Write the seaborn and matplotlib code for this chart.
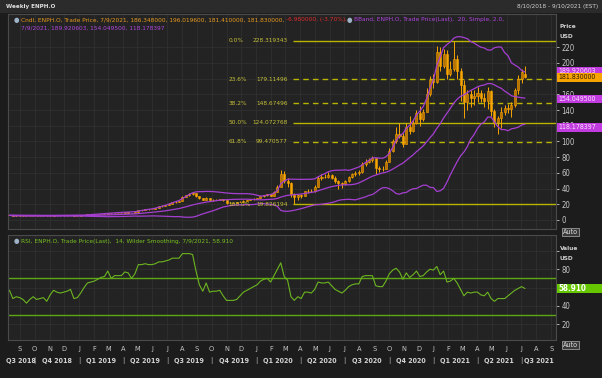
import numpy as np
import pandas as pd
import matplotlib
matplotlib.use("Agg")
import matplotlib.pyplot as plt
import matplotlib.dates as mdates
import matplotlib.transforms as mtransforms
from matplotlib.patches import Rectangle
from matplotlib import font_manager
import seaborn as sns

# ---------------- data (weekly bars, Friday dated) ----------------
first_week = "2018-08-10"
opens = [
    6.10, 5.90, 5.50, 5.62, 5.58, 5.45, 5.15, 5.35, 5.50, 5.30,
    5.35, 5.40, 5.05, 5.45, 5.85, 5.75, 5.70, 5.75, 5.85, 6.00,
    5.30, 5.38, 5.80, 6.40, 7.00, 7.15, 7.30, 7.70, 8.00, 8.20,
    9.00, 8.40, 8.75, 8.85, 8.90, 9.60, 9.45, 8.90, 9.80, 12.20,
    12.90, 13.80, 13.60, 14.00, 15.30, 17.20, 18.00, 19.30, 20.80, 22.40,
    23.40, 24.00, 29.60, 31.50, 33.00, 33.80, 30.50, 27.50, 25.80, 28.20,
    25.50, 25.70, 25.80, 26.20, 25.00, 22.00, 22.10, 22.20, 22.50, 23.40,
    24.60, 25.40, 26.20, 27.00, 28.00, 30.00, 31.50, 32.60, 31.00, 36.00,
    42.50, 59.00, 50.00, 47.00, 33.00, 29.00, 31.50, 30.50, 36.50, 37.00,
    36.50, 42.00, 54.00, 54.50, 55.00, 57.50, 54.00, 50.00, 47.50, 45.50,
    49.50, 54.50, 58.00, 59.50, 60.50, 71.00, 74.00, 76.50, 78.50, 66.00,
    65.00, 65.50, 74.00, 88.00, 100.00, 110.00, 107.00, 97.00, 118.00, 113.00,
    123.00, 136.00, 128.00, 138.00, 160.00, 178.00, 175.50, 214.00, 196.00, 212.00,
    186.00, 192.00, 205.00, 190.00, 172.00, 150.00, 160.00, 156.00, 158.00, 162.00,
    155.00, 152.00, 164.00, 139.00, 125.00, 130.00, 137.00, 143.00, 141.00, 147.00,
    165.00, 179.00, 186.348,
]
highs = [
    6.30, 6.00, 5.80, 5.75, 5.70, 5.50, 5.45, 5.60, 5.55, 5.50,
    5.55, 5.45, 5.55, 5.95, 5.95, 5.85, 5.85, 5.95, 6.15, 6.05,
    5.50, 5.90, 6.50, 7.10, 7.30, 7.50, 7.85, 8.20, 8.40, 9.20,
    9.10, 8.90, 9.00, 9.10, 9.80, 9.80, 9.50, 10.00, 12.60, 13.30,
    14.10, 14.20, 14.30, 15.60, 17.60, 18.50, 19.70, 21.20, 22.80, 23.90,
    24.60, 30.50, 32.20, 33.80, 35.90, 34.20, 30.80, 28.20, 28.80, 28.40,
    26.50, 26.60, 26.90, 27.00, 25.50, 23.00, 22.90, 23.10, 23.80, 25.00,
    25.90, 26.70, 27.50, 28.60, 30.60, 32.20, 33.60, 33.20, 36.50, 44.00,
    64.00, 62.00, 54.00, 48.00, 34.00, 33.50, 33.00, 37.50, 39.50, 39.00,
    44.00, 56.00, 58.00, 59.00, 61.00, 59.00, 56.00, 51.50, 49.00, 51.00,
    56.00, 59.50, 62.00, 63.50, 74.00, 77.50, 79.00, 81.00, 79.50, 69.00,
    68.50, 76.00, 92.00, 103.00, 119.00, 123.00, 111.00, 124.00, 132.00, 128.00,
    140.00, 145.00, 142.00, 168.00, 184.00, 186.00, 222.00, 220.00, 218.00, 216.00,
    203.00, 228.319343, 210.00, 194.00, 178.00, 166.00, 165.00, 165.00, 170.00, 166.00,
    162.00, 170.00, 166.00, 142.00, 133.00, 144.00, 146.00, 148.00, 150.00, 168.00,
    185.00, 192.00, 196.0196,
]
lows = [
    5.75, 5.35, 5.40, 5.45, 5.30, 5.00, 5.05, 5.25, 5.20, 5.15,
    5.20, 4.90, 5.00, 5.40, 5.60, 5.55, 5.60, 5.65, 5.75, 5.15,
    5.10, 5.30, 5.75, 6.30, 6.85, 7.00, 7.20, 7.60, 7.90, 8.10,
    8.20, 8.30, 8.60, 8.70, 8.80, 9.20, 8.70, 8.80, 9.70, 12.00,
    12.70, 13.20, 13.40, 13.90, 15.10, 16.90, 17.80, 19.10, 20.50, 22.00,
    23.00, 23.60, 28.80, 30.80, 32.20, 29.80, 26.50, 25.00, 25.50, 25.00,
    24.20, 25.00, 25.20, 24.50, 20.50, 21.30, 21.60, 21.80, 22.30, 23.10,
    24.30, 25.10, 25.90, 26.50, 27.70, 29.60, 31.10, 30.40, 30.80, 35.50,
    42.00, 47.00, 42.00, 29.00, 19.826194, 25.00, 28.50, 30.00, 34.50, 35.00,
    36.00, 41.50, 51.50, 53.00, 54.00, 52.00, 47.00, 40.00, 41.00, 44.50,
    49.00, 53.00, 56.00, 57.50, 60.00, 69.00, 72.00, 74.00, 59.00, 61.00,
    62.00, 65.00, 73.50, 87.00, 98.50, 104.00, 93.00, 96.50, 110.00, 112.00,
    122.00, 120.00, 126.00, 137.00, 158.00, 168.00, 174.00, 190.00, 193.00, 180.00,
    183.00, 190.00, 180.00, 152.00, 130.00, 140.00, 144.00, 146.00, 150.00, 150.00,
    144.00, 142.00, 133.00, 119.00, 110.00, 117.00, 134.00, 136.00, 131.00, 144.00,
    161.00, 174.00, 181.41,
]
closes = [
    5.90, 5.50, 5.62, 5.58, 5.45, 5.15, 5.35, 5.50, 5.30, 5.35,
    5.40, 5.05, 5.45, 5.85, 5.75, 5.70, 5.75, 5.85, 6.00, 5.30,
    5.38, 5.80, 6.40, 7.00, 7.15, 7.30, 7.70, 8.00, 8.20, 9.00,
    8.40, 8.75, 8.85, 8.90, 9.60, 9.45, 8.90, 9.80, 12.20, 12.90,
    13.80, 13.60, 14.00, 15.30, 17.20, 18.00, 19.30, 20.80, 22.40, 23.40,
    24.00, 29.60, 31.50, 33.00, 33.80, 30.50, 27.50, 25.80, 28.20, 25.50,
    25.70, 25.80, 26.20, 25.00, 22.00, 22.10, 22.20, 22.50, 23.40, 24.60,
    25.40, 26.20, 27.00, 28.00, 30.00, 31.50, 32.60, 31.00, 36.00, 42.50,
    59.00, 50.00, 47.00, 33.00, 29.00, 31.50, 30.50, 36.50, 37.00, 36.50,
    42.00, 54.00, 54.50, 55.00, 57.50, 54.00, 50.00, 47.50, 45.50, 49.50,
    54.50, 58.00, 59.50, 60.50, 71.00, 74.00, 76.50, 78.50, 66.00, 65.00,
    65.50, 74.00, 88.00, 100.00, 110.00, 107.00, 97.00, 118.00, 113.00, 123.00,
    136.00, 128.00, 138.00, 160.00, 178.00, 175.50, 214.00, 196.00, 212.00, 186.00,
    192.00, 205.00, 190.00, 172.00, 150.00, 160.00, 156.00, 158.00, 162.00, 155.00,
    152.00, 164.00, 139.00, 125.00, 130.00, 137.00, 143.00, 141.00, 147.00, 165.00,
    179.00, 188.81, 181.83,
]
rsi_values = [
    57, 48, 50, 49, 47, 43, 47, 50, 47, 48,
    49, 45, 52, 57, 55, 54, 55, 56, 58, 48,
    49, 54, 60, 65, 66, 67, 69, 71, 72, 78,
    70, 73, 73, 73, 77, 76, 70, 75, 85, 85,
    86, 85, 85, 86, 88, 88, 89, 90, 92, 92,
    92, 97, 97, 97, 96, 78, 63, 56, 65, 55,
    56, 56, 57, 51, 46, 46, 46, 47, 51, 55,
    57, 59, 61, 63, 67, 69, 70, 66, 73, 80,
    87, 72, 68, 50, 46, 50, 48, 55, 55, 54,
    58, 66, 65, 65, 66, 62, 58, 56, 54, 57,
    61, 63, 64, 64, 72, 73, 73, 73, 62, 61,
    61, 67, 75, 79, 81, 77, 69, 76, 71, 74,
    78, 72, 73, 77, 80, 79, 83, 74, 78, 66,
    67, 70, 65, 58, 51, 55, 54, 55, 55, 52,
    51, 55, 48, 45, 48, 48, 48, 51, 54, 57,
    59, 61, 58.91,
]
fib_percents = [0.0, 23.6, 38.2, 50.0, 61.8, 100.0]
fib_low_week = "2020-03-20"    # swing low anchor of the retracement
fib_high_week = "2021-02-12"   # swing high anchor
bb_last = [189.920603, 154.049500, 118.178397]
last_close = 181.83
rsi_last = 58.910
price_ticks = list(range(0, 221, 20))
rsi_ticks = [20, 40, 60, 80, 100]
rsi_levels = [30, 70]
bb_window = 20

title_left = "Weekly ENPH.O"
title_right = "8/10/2018 - 9/10/2021 (EST)"
hdr_cndl = "Cndl, ENPH.O, Trade Price, 7/9/2021, 186.348000, 196.019600, 181.410000, 181.830000, "
hdr_chg = "-6.980000, (-3.70%), "
hdr_bb1 = "BBand, ENPH.O, Trade Price(Last),  20, Simple, 2.0,"
hdr_bb2 = "7/9/2021, 189.920603, 154.049500, 118.178397"
hdr_rsi = "RSI, ENPH.O, Trade Price(Last),  14, Wilder Smoothing, 7/9/2021, 58.910"

# ---------------- styling ----------------
W, H = 602, 378
FIG_BG = "#1c1c1c"
PANEL = "#232323"
GRID = "#303030"
SPINE = "#4a4a4a"
ORANGE = "#f7a400"
ORANGE_DK = "#b86f00"
PURPLE = "#a53fd2"
FIB = "#b9b400"
FIBTXT = "#c5c03a"
GREEN = "#5fa615"
TXT = "#c8c8c8"

sns.set_theme(style="dark", rc={
    "axes.facecolor": PANEL, "figure.facecolor": FIG_BG,
    "grid.color": GRID, "axes.edgecolor": SPINE,
    "xtick.color": TXT, "ytick.color": TXT,
})
entries = font_manager.fontManager.ttflist
installed = {f.name for f in entries}
FONT, STRETCH = "Liberation Sans", "normal"
if "Liberation Sans Narrow" in installed:
    FONT = "Liberation Sans Narrow"
elif any(f.name == "DejaVu Sans" and "ondensed" in str(f.stretch) + f.fname for f in entries):
    FONT, STRETCH = "DejaVu Sans", "condensed"
elif "Roboto" in installed:
    FONT = "Roboto"
plt.rcParams["font.family"] = [FONT, "DejaVu Sans"]
plt.rcParams["font.stretch"] = STRETCH

df = pd.DataFrame({
    "date": pd.date_range(first_week, periods=len(closes), freq="W-FRI"),
    "open": opens, "high": highs, "low": lows, "close": closes, "rsi": rsi_values,
})
df["mid"] = df["close"].rolling(bb_window, min_periods=1).mean()
sd = df["close"].rolling(bb_window, min_periods=1).std(ddof=0).fillna(0)
df["upper"] = df["mid"] + 2 * sd
df["lower"] = df["mid"] - 2 * sd

fig = plt.figure(figsize=(W / 100, H / 100), dpi=100)
fig.patch.set_facecolor(FIG_BG)
renderer = fig.canvas.get_renderer()


def rect(x0, y0, x1, y1):
    return [x0 / W, 1 - y1 / H, (x1 - x0) / W, (y1 - y0) / H]


def fy(y):
    return 1 - y / H


def fit(s, target, weight="normal"):
    t = fig.text(0, 0, s, fontsize=10, weight=weight)
    w = t.get_window_extent(renderer).width
    t.remove()
    return 10 * target / w


fig.patches.append(Rectangle((0, fy(13)), 1, 13 / H, transform=fig.transFigure,
                             facecolor="#2b2b2b", edgecolor="none", zorder=0))

ax = fig.add_axes(rect(8, 14, 556, 229))
axr = fig.add_axes(rect(8, 235, 556, 340), sharex=ax)
xmin, xmax = pd.Timestamp("2018-08-07"), pd.Timestamp("2021-09-11")

# ---------------- price panel ----------------
up = df["close"] >= df["open"]
body_lo = np.minimum(df["open"], df["close"])
body_h = (df["close"] - df["open"]).abs()
ax.vlines(df["date"], df["low"], df["high"], color=ORANGE, lw=0.7, zorder=3)
ax.bar(df["date"], body_h, bottom=body_lo, width=4.2,
       color=np.where(up, ORANGE_DK, ORANGE), edgecolor=ORANGE, linewidth=0.4, zorder=4)
for col in ["upper", "mid", "lower"]:
    sns.lineplot(data=df, x="date", y=col, ax=ax, color=PURPLE, lw=0.9, zorder=5, legend=False)

lo_row = df.loc[df["date"] == pd.Timestamp(fib_low_week)].iloc[0]
hi_row = df.loc[df["date"] == pd.Timestamp(fib_high_week)].iloc[0]
lo, hi = lo_row["low"], hi_row["high"]
fib_start = lo_row["date"] - pd.Timedelta(days=3)
fsz = fit("228.319343", 35)
for p in fib_percents:
    v = hi - p / 100 * (hi - lo)
    ls = "-" if p in (0.0, 50.0, 100.0) else (0, (4, 3))
    ax.hlines(v, fib_start, xmax, color=FIB, lw=1.0, ls=ls, zorder=2)
    ax.annotate(f"{p:.1f}%", xy=(fib_start, v), xytext=(-64, 0), textcoords="offset pixels",
                ha="left", va="center", color=FIBTXT, fontsize=fsz, zorder=6)
    ax.annotate(f"{v:.6f}".rstrip("0"), xy=(fib_start, v), xytext=(-5, 0),
                textcoords="offset pixels", ha="right", va="center", color=FIBTXT,
                fontsize=fsz, zorder=6)

ax.set_xlim(xmin, xmax)
ax.set_ylim(-11.5, 262.4)
ax.yaxis.tick_right()
ax.set_yticks(price_ticks)
tsz = 5.6
ax.tick_params(axis="y", labelsize=tsz, length=2.5, pad=1.5, colors=TXT, width=0.6)
ax.tick_params(axis="x", labelbottom=False, length=0)
ax.set_xlabel("")
ax.set_ylabel("")
ax.grid(True, color=GRID, lw=0.6)

# ---------------- RSI panel ----------------
for lv in rsi_levels:
    axr.axhline(lv, color=GREEN, lw=1.0, zorder=2)
sns.lineplot(data=df, x="date", y="rsi", ax=axr, color="#6cb520", lw=0.8, zorder=4, legend=False)
axr.set_ylim(2.8, 117.3)
axr.yaxis.tick_right()
axr.set_yticks(rsi_ticks)
axr.set_yticklabels([str(t) if t != 100 else "" for t in rsi_ticks])
axr.tick_params(axis="y", labelsize=tsz, length=2.5, pad=1.5, colors=TXT, width=0.6)
axr.set_xlabel("")
axr.set_ylabel("")
axr.grid(True, color=GRID, lw=0.6)

months = pd.date_range("2018-09-01", "2021-09-01", freq="MS")
axr.set_xticks(months)
axr.set_xticklabels([m.strftime("%b")[0] for m in months])
axr.tick_params(axis="x", labelsize=5.3, length=2, pad=2.5, colors=TXT, width=0.6)
axr.set_xlim(xmin, xmax)

for a in (ax, axr):
    for s in a.spines.values():
        s.set_color(SPINE)
        s.set_linewidth(0.8)

# ---------------- value badges on the right axis ----------------
bsz = fit("189.920603", 38)


def badge(a, val, text, bg, fg, weight="normal", size=None):
    ypix = a.transData.transform((0, val))[1]
    yf = ypix / H
    fig.patches.append(Rectangle((557 / W, yf - 4.3 / H), 45 / W, 8.6 / H,
                                 transform=fig.transFigure, facecolor=bg,
                                 edgecolor="none", zorder=20))
    fig.text(558 / W, yf, text, fontsize=size or bsz, color=fg, weight=weight,
             va="center", ha="left", zorder=21)


fig.canvas.draw()
badge(ax, bb_last[0], f"{bb_last[0]:.6f}", "#c23be0", "#f6e2fa")
badge(ax, last_close, f"{last_close:.6f}", "#f7a400", "#2a1800")
badge(ax, bb_last[1], f"{bb_last[1]:.6f}", "#c23be0", "#f6e2fa")
badge(ax, bb_last[2], f"{bb_last[2]:.6f}", "#c23be0", "#f6e2fa")
badge(axr, rsi_last, f"{rsi_last:.3f}", "#66c600", "white", "bold", 5.8)

# quarter labels
qsize = fit("Q1 2019", 30, "bold")
blend = mtransforms.blended_transform_factory(axr.transData, fig.transFigure)
for qs in pd.date_range("2018-07-01", "2021-07-01", freq="QS"):
    qe = qs + pd.DateOffset(months=3)
    a, b = max(qs, xmin), min(qe, xmax)
    c = a + (b - a) / 2
    fig.text(mdates.date2num(c), fy(361), f"Q{qs.quarter} {qs.year}", transform=blend,
             ha="center", va="center", fontsize=qsize, weight="bold", color="#d4d4d4")
    if qs > xmin:
        fig.text(mdates.date2num(qs), fy(361), "|", transform=blend, ha="center",
                 va="center", fontsize=qsize, color="#d4d4d4")

# ---------------- header texts ----------------
def chain(parts, x, y, size):
    for s, c in parts:
        t = fig.text(x / W, fy(y), s, color=c, fontsize=size, ha="left", va="center")
        x += t.get_window_extent(renderer).width


fig.text(6 / W, fy(6.5), title_left, fontsize=fit(title_left, 49, "bold"), weight="bold",
         color="#e0e0e0", va="center")
fig.text(598 / W, fy(6.5), title_right, fontsize=fit(title_right, 81), color="#d0d0d0",
         va="center", ha="right")

hsize = fit(hdr_cndl + hdr_chg, 326)
fig.text(16 / W, fy(20), "●", fontsize=5, color="#9fb3c8", va="center", ha="center")
chain([(hdr_cndl, "#e89a1e"), (hdr_chg, "#e02a2a")], 21, 20, hsize)
fig.text(349 / W, fy(20), "●", fontsize=5, color="#9fb3c8", va="center", ha="center")
chain([(hdr_bb1, "#b045e0")], 354, 20, hsize)
chain([(hdr_bb2, "#b045e0")], 21, 28.5, hsize)
fig.text(16 / W, fy(241), "●", fontsize=5, color="#9fb3c8", va="center", ha="center")
chain([(hdr_rsi, "#78c020")], 21, 241, hsize)

lsz = fit("Value", 18, "bold")
for txt, y in [("Price", 27), ("USD", 36), ("Value", 249), ("USD", 258)]:
    fig.text(560 / W, fy(y), txt, fontsize=lsz, weight="bold", color="#cfcfcf", va="center")
for y in (232, 345):
    fig.text(563 / W, fy(y), "Auto", fontsize=fit("Auto", 15), color="#e0e0e0", va="center",
             bbox=dict(boxstyle="square,pad=0.15", fc="#3a3a3a", ec="#9a9a9a", lw=0.6))

fig.savefig("out.png", dpi=100, facecolor=FIG_BG)
